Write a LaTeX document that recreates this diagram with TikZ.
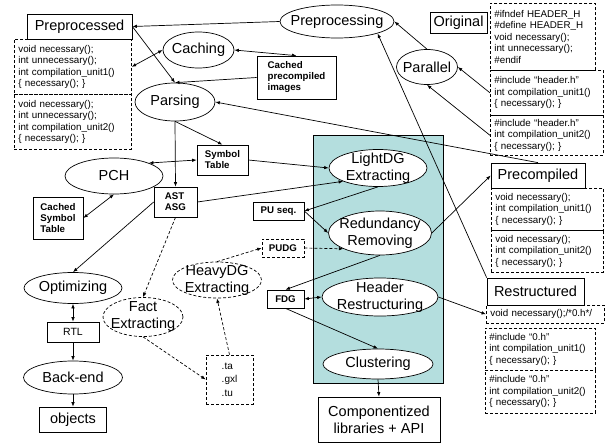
\documentclass[tikz,border=0pt]{standalone}
\usepackage{fontspec}
\setmainfont{Liberation Sans}
\usetikzlibrary{shapes.geometric,arrows.meta}
\definecolor{pcteal}{RGB}{180,222,222}
\tikzset{
  big/.style={font=\fontsize{14.5}{17}\selectfont},
  proc/.style={ellipse,draw,fill=white,big,align=center,inner sep=-10pt},
  prod/.style={rectangle,draw,fill=white,big,align=center,inner sep=0pt},
  dat/.style={rectangle,draw,fill=white,align=left,inner sep=0pt,font=\fontsize{9.7}{11}\selectfont\bfseries},
  plain/.style={rectangle,draw,fill=white,align=left,inner sep=0pt,font=\fontsize{10.5}{13.5}\selectfont},
  dsh/.style={dash pattern=on 3pt off 2pt},
  code/.style={rectangle,draw,dsh,anchor=north west,align=left,inner xsep=4pt,inner ysep=0pt,font=\fontsize{9.8}{11.5}\selectfont}
}
\begin{document}
\begin{tikzpicture}[x=1pt,y=-1pt,line width=.7pt,>={Latex[length=4.5pt,width=3.5pt]}]
\useasboundingbox (0,0) rectangle (605,444);
\draw[fill=pcteal] (313,135) rectangle (443,383);
% processes
\node[proc,minimum width=114,minimum height=33] (prep) at (337,21.5) {Preprocessing};
\node[proc,minimum width=71,minimum height=36]  (cach) at (198.5,50) {Caching};
\node[proc,minimum width=80,minimum height=38]  (pars) at (175,102) {Parsing};
\node[proc,minimum width=61,minimum height=35]  (para) at (427,67) {Parallel};
\node[proc,minimum width=98,minimum height=36]  (pch)  at (114,176) {PCH};
\node[proc,minimum width=98,minimum height=37]  (ldg)  at (378,168) {LightDG\\Extracting};
\node[proc,minimum width=103,minimum height=44] (red)  at (380,233) {Redundancy\\Removing};
\node[proc,minimum width=116,minimum height=38] (hdr)  at (380,297) {Header\\Restructuring};
\node[proc,minimum width=110,minimum height=30] (clus) at (378,364) {Clustering};
\node[proc,dsh,minimum width=89,minimum height=36] (hvy)  at (217,280) {HeavyDG\\Extracting};
\node[proc,dsh,minimum width=80,minimum height=39] (fact) at (143,317) {Fact\\Extracting};
\node[proc,minimum width=98,minimum height=31]  (opt)  at (73,288) {Optimizing};
\node[proc,minimum width=99,minimum height=33]  (back) at (73,377.5) {Back-end};
% products
\node[prod,minimum width=105,minimum height=25] (prepd) at (79.5,26.5) {Preprocessed};
\node[prod,minimum width=57,minimum height=21]  (orig)  at (458.5,23) {Original};
\node[prod,minimum width=94,minimum height=25]  (precd) at (538,175.5) {Precompiled};
\node[prod,minimum width=97,minimum height=27]  (restr) at (535.5,291.5) {Restructured};
\node[prod,minimum width=122,minimum height=45] (comp)  at (379,419.5) {Componentized\\libraries + API};
\node[prod,minimum width=67,minimum height=25]  (objs)  at (73,419.5) {objects};
% data
\node[dat,minimum width=79,minimum height=43] (cpi)   at (296.5,77.5) {Cached\\precompiled\\images};
\node[dat,minimum width=50,minimum height=42] (cst)   at (58,218) {Cached\\Symbol\\Table};
\node[dat,minimum width=51,minimum height=30] (symt)  at (222.5,160) {Symbol\\Table};
\node[dat,minimum width=43,minimum height=30] (ast)   at (175.5,202) {AST\\ASG};
\node[dat,minimum width=51,minimum height=18] (puseq) at (278.5,211) {PU seq.};
\node[dat,dsh,minimum width=42,minimum height=18] (pudg) at (283,248) {PUDG};
\node[dat,minimum width=37,minimum height=18] (fdg)   at (285.5,299) {FDG};
\node[plain,minimum width=52,minimum height=20] (rtl) at (73,332) {RTL};
\node[plain,dsh,minimum width=47,minimum height=49,font=\fontsize{10}{13.5}\selectfont] (ext) at (229.5,379.5) {.ta\\.gxl\\.tu};
% code
\node[code,text width=109,minimum height=55] (codeA) at (14,39) {void necessary();\\int unnecessary();\\int compilation\_unit1()\\\{ necessary(); \}};
\node[code,text width=109,minimum height=55] (codeB) at (14,94) {void necessary();\\int unnecessary();\\int compilation\_unit2()\\\{ necessary(); \}};
\node[code,text width=97,minimum height=67]  (codeC) at (490,3) {\#ifndef HEADER\_H\\\#define HEADER\_H\\void necessary();\\int unnecessary();\\\#endif};
\node[code,text width=105,minimum height=45] (codeD) at (490,70) {\#include “header.h”\\int compilation\_unit1()\\\{ necessary(); \}};
\node[code,text width=105,minimum height=40] (codeE) at (490,115) {\#include “header.h”\\int compilation\_unit2()\\\{ necessary(); \}};
\node[code,text width=104,minimum height=42] (codeF) at (491,188) {void necessary();\\int compilation\_unit1()\\\{ necessary(); \}};
\node[code,text width=104,minimum height=42] (codeG) at (491,230) {void necessary();\\int compilation\_unit2()\\\{ necessary(); \}};
\node[code,text width=110,minimum height=18] (codeH) at (486,305) {void necessary();/*0.h*/};
\node[code,text width=102,minimum height=42] (codeI) at (485,328) {\#include “0.h”\\int compilation\_unit1()\\\{ necessary(); \}};
\node[code,text width=102,minimum height=43] (codeJ) at (485,370) {\#include “0.h”\\int compilation\_unit2()\\\{ necessary(); \}};
% connectors
\draw[->] (prep.west) -- (prepd.east);
\draw[->] (prepd.east) -- (pars.north);
\draw[->] (cpi.west) -- (pars.north);
\draw[<->] (cach.west) -- (codeA.east);
\draw[<->] (cach.east) -- (cpi.north);
\draw[->] (para.north) -- (prep.east);
\draw[->] (codeD.west) -- (para.east);
\draw[->] (codeE.west) -- (para.south);
\draw[->] (precd.north) -- (pars.east);
\draw[->] (restr.north west) -- (prep.south east);
\draw[->] (pars.south) -- (symt.north);
\draw[->] (pars.south) -- (ast.north);
\draw[<->] (pch.north east) -- (symt.west);
\draw[<->] (pch.south) -- (cst.east);
\draw[->] (symt.east) -- (ldg.west);
\draw[->] (ast.east) -- (ldg.south west);
\draw[->] (ast.west) -- (opt.north);
\draw[->,dsh] (ast.south) -- (fact.north);
\draw[->] (ldg.south) -- (puseq.east);
\draw[->] (puseq.east) -- (red.west);
\draw[->,dsh] (pudg.east) -- (red.south west);
\draw[->,dsh] (hvy.north) -- (pudg.west);
\draw[->] (red.south) -- (fdg.north);
\draw[->] (red.east) -- (precd.west);
\draw[<->] (fdg.east) -- (hdr.west);
\draw[->] (fdg.south) -- (clus.north);
\draw[->] (clus.south) -- (comp.north);
\draw[->] (hdr.east) -- (codeH.west);
\draw[<->] (opt.south) -- (rtl.north);
\draw[->] (rtl.south) -- (back.north);
\draw[->] (back.south) -- (objs.north);
\draw[->,dsh] (fact.south) -- (ext.west);
\draw[->,dsh] (ext.north) -- (hvy.south);
\end{tikzpicture}
\end{document}
